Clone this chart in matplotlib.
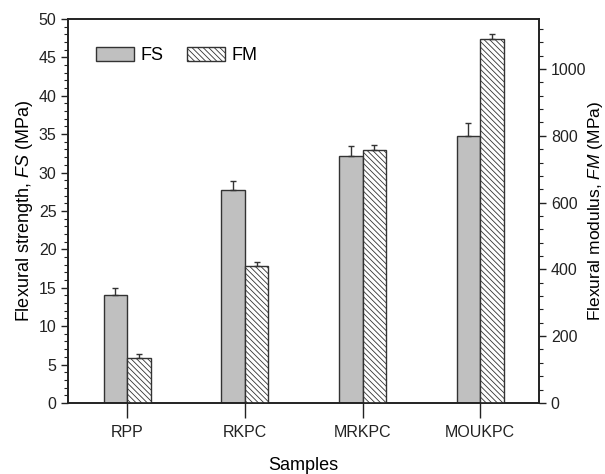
import numpy as np
from matplotlib import pyplot as plt
from matplotlib.ticker import MultipleLocator

plt.rcParams['font.family'] = ['Liberation Sans', 'DejaVu Sans']
plt.rcParams['mathtext.fontset'] = 'custom'
plt.rcParams['mathtext.rm'] = 'Liberation Sans'
plt.rcParams['mathtext.it'] = 'Liberation Sans:italic'
plt.rcParams['hatch.linewidth'] = 0.6
plt.rcParams['hatch.color'] = '#444444'

samples = ['RPP', 'RKPC', 'MRKPC', 'MOUKPC']
fs = [14.0, 27.7, 32.1, 34.7]
fs_err = [0.9, 1.2, 1.4, 1.7]
fm = [135, 410, 758, 1090]
fm_err = [10, 12, 15, 15]

x = np.arange(len(samples))
w = 0.2

fig, ax = plt.subplots(figsize=(6.05, 4.74), dpi=100)
fig.subplots_adjust(left=0.113, right=0.891, top=0.96, bottom=0.15)
ax2 = ax.twinx()

ax.bar(x - w / 2, fs, w, color='#c0c0c0', edgecolor='#333333', linewidth=1.0,
       label='FS', zorder=2)
ax.errorbar(x - w / 2, fs, yerr=[[0] * 4, fs_err], fmt='none', ecolor='#333333',
            elinewidth=1.0, capsize=2.5, capthick=1.0, zorder=3)
ax2.bar(x + w / 2, fm, w, color='white', edgecolor='#333333', linewidth=1.0,
        hatch='\\\\\\\\\\\\', label='FM', zorder=2)
ax2.errorbar(x + w / 2, fm, yerr=[[0] * 4, fm_err], fmt='none', ecolor='#333333',
             elinewidth=1.0, capsize=2.5, capthick=1.0, zorder=3)

ax.set_xlim(-0.5, 3.5)
ax.set_ylim(0, 50)
ax2.set_ylim(0, 1150)
ax.set_xticks(x)
ax.set_xticklabels(samples)
ax.yaxis.set_major_locator(MultipleLocator(5))
ax.yaxis.set_minor_locator(MultipleLocator(1))
ax2.yaxis.set_major_locator(MultipleLocator(200))
ax2.yaxis.set_minor_locator(MultipleLocator(40))

for a in (ax, ax2):
    for s in a.spines.values():
        s.set_linewidth(1.2)
        s.set_color('#222222')
    a.tick_params(which='major', length=5, width=1.0, labelsize=11.5, colors='#222222')
    a.tick_params(which='minor', length=3, width=0.8, colors='#222222')
ax.tick_params(axis='x', length=11, pad=5)

ax.set_xlabel('Samples', fontsize=13, labelpad=12)
ax.set_ylabel(r'Flexural strength, $\it{FS}$ (MPa)', fontsize=13, labelpad=3)
ax2.set_ylabel(r'Flexural modulus, $\it{FM}$ (MPa)', fontsize=12.5, labelpad=0)

h1, l1 = ax.get_legend_handles_labels()
h2, l2 = ax2.get_legend_handles_labels()
ax.legend(h1 + h2, l1 + l2, loc='upper left', ncol=2, frameon=False, fontsize=13,
          handlelength=2.1, handleheight=0.8, handletextpad=0.35,
          columnspacing=1.3, bbox_to_anchor=(0.025, 0.97))

plt.savefig('out.png', dpi=100)
